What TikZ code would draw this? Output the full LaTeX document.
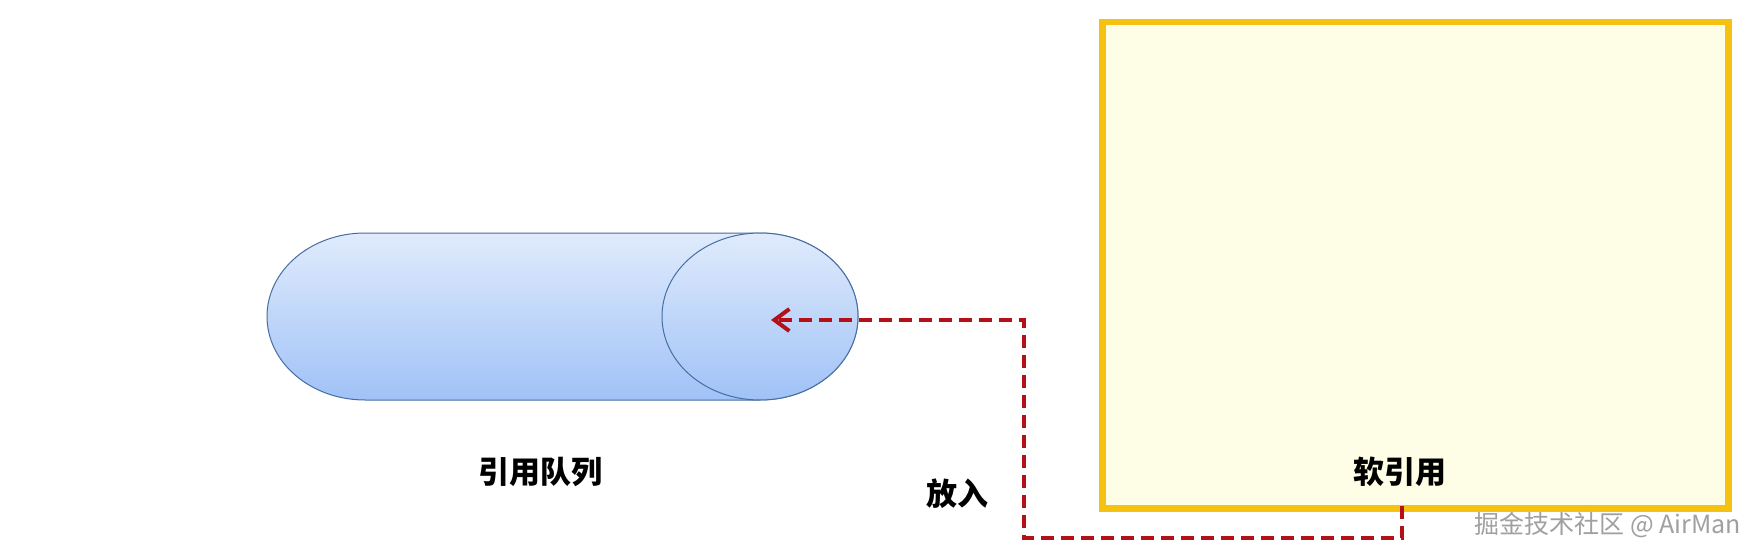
\documentclass[tikz,border=0pt]{standalone}
\usepackage{fontspec}
\newfontfamily\cjk{Noto Sans CJK SC}
\usetikzlibrary{arrows.meta}
\definecolor{cylTop}{RGB}{224,235,252}
\definecolor{cylBot}{RGB}{160,194,247}
\definecolor{cylLine}{RGB}{70,110,160}
\definecolor{boxFill}{RGB}{254,254,230}
\definecolor{boxLine}{RGB}{246,194,18}
\definecolor{arrRed}{RGB}{180,16,24}
\definecolor{wmGray}{RGB}{160,160,160}
\tikzset{
  lab/.style={font=\cjk\bfseries\fontsize{31}{34}\selectfont, text=black, inner sep=0pt},
  softbox/.style={draw=boxLine, fill=boxFill, line width=6.5pt, rectangle, inner sep=0pt},
  cylpart/.style={draw=cylLine, line width=1pt, top color=cylTop, bottom color=cylBot},
  putarrow/.style={draw=arrRed, line width=4pt, dash pattern=on 13pt off 7pt,
    -{Straight Barb[length=15pt,width=22pt,line width=4pt]}},
  wm/.style={font=\cjk\fontsize{25}{28}\selectfont, text=wmGray, inner sep=0pt, anchor=east}
}
\begin{document}
\begin{tikzpicture}[x=1pt,y=-1pt]
\useasboundingbox (0,0) rectangle (1759,559);
\fill[white] (0,0) rectangle (1759,559);
% queue cylinder
\path[cylpart] (760,233) -- (365,233)
  arc[start angle=270, end angle=90, x radius=98, y radius=83.5]
  -- (760,400)
  arc[start angle=90, end angle=-90, x radius=98, y radius=83.5] -- cycle;
\path[cylpart] (760,316.5) ellipse[x radius=98, y radius=83.5];
\coordinate (qin) at (771,320);
\node[lab] (qlab) at (540,472) {引用队列};
% soft reference box
\node[softbox, anchor=north west, minimum width=626pt, minimum height=486pt] (soft) at (1099,19) {};
\node[lab] (softlab) at (1400,472) {软引用};
\coordinate (sout) at (1402,506);
% arrow
\draw[putarrow] (sout) -- ++(0,32) -| (1024,320) -- (qin);
\node[lab] (putlab) at (957,494) {放入};
% watermark
\node[wm] (wmark) at (1741,525) {掘金技术社区 @ AirMan};
\end{tikzpicture}
\end{document}
